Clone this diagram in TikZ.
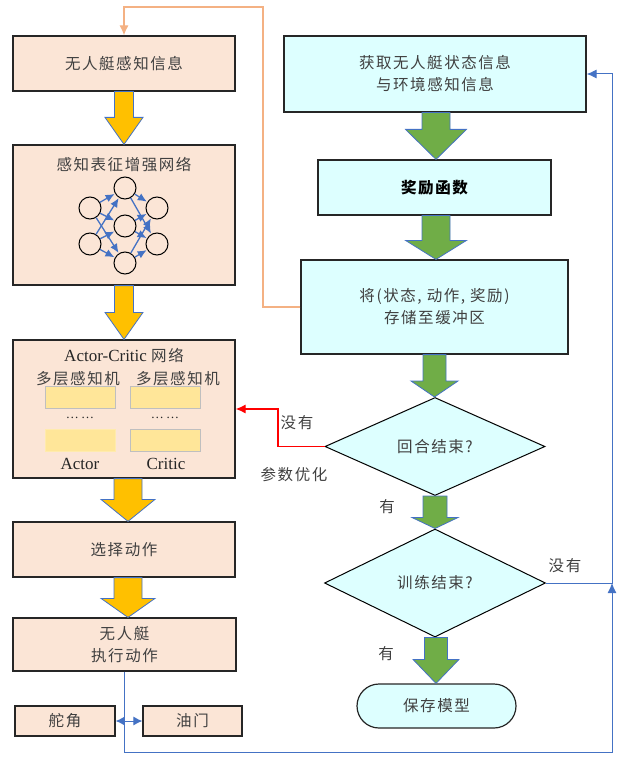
\documentclass[tikz,border=0pt]{standalone}
\usepackage{fontspec}
\setmainfont{Liberation Serif}
\newfontfamily\cjk[LetterSpace=10]{Noto Sans CJK SC}
\usetikzlibrary{shapes.geometric,arrows.meta,calc}
\definecolor{peach}{RGB}{251,229,214}
\definecolor{lcyan}{RGB}{221,255,255}
\definecolor{frame}{RGB}{38,38,38}
\definecolor{txt}{RGB}{64,64,64}
\definecolor{ayellow}{RGB}{255,192,0}
\definecolor{agreen}{RGB}{112,173,71}
\definecolor{aedge}{RGB}{68,114,196}
\definecolor{lblue}{RGB}{68,114,196}
\definecolor{lorange}{RGB}{244,177,131}
\definecolor{mlp}{RGB}{255,230,153}
\definecolor{mlpedge}{RGB}{191,191,191}
\newcommand\fatarrow[7]{% from, to, shaft half, head half, head length, fill, x offset
  \filldraw[fill=#6, draw=aedge, line width=0.8pt] let \p1=(#1.south), \p2=(#2.north) in
  (\x1+#7-#3,\y1) -- (\x1+#7-#3,\y2+#5) -- (\x1+#7-#4,\y2+#5) -- (\x1+#7,\y2)
  -- (\x1+#7+#4,\y2+#5) -- (\x1+#7+#3,\y2+#5) -- (\x1+#7+#3,\y1) -- cycle;}
\begin{document}
\begin{tikzpicture}[x=1pt,y=-1pt,
  cn/.style={font=\cjk\fontsize{15.5}{22}\selectfont, text=txt},
  lbox/.style={draw=frame, line width=1.2pt, fill=peach, cn, align=center, inner sep=0pt},
  rbox/.style={draw=frame, line width=1.2pt, fill=lcyan, cn, align=center, inner sep=0pt},
  dia/.style={diamond, draw=black, line width=1pt, fill=lcyan, cn, inner sep=0pt, aspect=2.2},
  lbl/.style={cn},
  neuron/.style={circle, draw=black, line width=1pt, minimum size=22pt, inner sep=0pt},
  nnarrow/.style={draw=lblue, line width=1.3pt, -{Latex[length=9pt,width=8pt]}, shorten >=0.5pt},
  mlpbox/.style={draw=mlpedge, line width=1pt, fill=mlp, minimum width=70pt, minimum height=22pt, inner sep=0pt},
  lat/.style={font=\fontsize{17}{20}\selectfont, text=black!85},
  bluel/.style={draw=lblue, line width=1pt},
  tipa/.style={-{Latex[length=10pt,width=9pt]}},
]
\useasboundingbox (0,0) rectangle (625,759);

% ---- coordinates for connector bends
\coordinate (oc) at (263,7);
\coordinate (rc) at (278,409);
\coordinate (bc) at (612,752);
\coordinate (jc) at (612,583);

% ---- left column
\node[lbox, minimum width=222pt, minimum height=55pt] (B1) at (124,63.5) {无人艇感知信息};
\node[lbox, minimum width=222pt, minimum height=140pt] (B2) at (124,215) {};
\node[lbox, minimum width=222pt, minimum height=138pt] (B3) at (124,409) {};
\node[lbox, minimum width=222pt, minimum height=55pt] (B4) at (124,549.5) {选择动作};
\node[lbox, minimum width=223pt, minimum height=53pt] (B5) at (124.5,644.5) {无人艇\\执行动作};
\node[lbox, minimum width=100pt, minimum height=30pt] (S1) at (65,721) {舵角};
\node[lbox, minimum width=99pt, minimum height=30pt] (S2) at (192.5,721) {油门};

% ---- right column
\node[rbox, minimum width=302pt, minimum height=76pt] (R1) at (435,74) {获取无人艇状态信息\\与环境感知信息};
\node[rbox, minimum width=233pt, minimum height=55pt, font=\cjk\bfseries\fontsize{15.5}{22}\selectfont, text=black] (R2) at (434.5,187.5) {奖励函数};
\node[rbox, minimum width=267pt, minimum height=94pt] (R3) at (434.5,307)
  {{\cjk 将}({\cjk 状态}, {\cjk 动作}, {\cjk 奖励})\\存储至缓冲区};
\node[dia, minimum width=220pt, minimum height=98pt] (D1) at (435,446.5) {回合结束?};
\node[dia, minimum width=221pt, minimum height=108pt] (D2) at (435,583) {训练结束?};
\node[rbox, rounded corners=22pt, minimum width=159pt, minimum height=44pt, line width=1.2pt] (T) at (436.5,706) {保存模型};

% ---- fat arrows
\fatarrow{B1}{B2}{9.5pt}{19pt}{27pt}{ayellow}{0pt}
\fatarrow{B2}{B3}{9.5pt}{19pt}{27pt}{ayellow}{0pt}
\fatarrow{B3}{B4}{14pt}{27pt}{22pt}{ayellow}{4pt}
\fatarrow{B4}{B5}{14pt}{27pt}{19pt}{ayellow}{4pt}
\fatarrow{R1}{R2}{14pt}{30.5pt}{30pt}{agreen}{1pt}
\fatarrow{R2}{R3}{14pt}{30.5pt}{19pt}{agreen}{1.5pt}
\fatarrow{R3}{D1}{11.5pt}{23.5pt}{16pt}{agreen}{0pt}
\fatarrow{D1}{D2}{12pt}{23pt}{11pt}{agreen}{0pt}
\fatarrow{D2}{T}{11.5pt}{23pt}{24pt}{agreen}{1pt}

% ---- perception network inside B2
\node[lbl] (B2t) at (124,165) {感知表征增强网络};
\node[neuron] (n11) at (90,208) {};
\node[neuron] (n12) at (90,244) {};
\node[neuron] (n21) at (125,188) {};
\node[neuron] (n22) at (125,226) {};
\node[neuron] (n23) at (125,263) {};
\node[neuron] (n31) at (157,208) {};
\node[neuron] (n32) at (157,244) {};
\foreach \a in {n11,n12}{\foreach \b in {n21,n22,n23}{\draw[nnarrow] (\a) -- (\b);}}
\foreach \a in {n21,n22,n23}{\foreach \b in {n31,n32}{\draw[nnarrow] (\a) -- (\b);}}

% ---- Actor-Critic inside B3
\node[lat] (B3t) at (124,355) {Actor-Critic {\cjk\fontsize{15.5}{22}\selectfont\color{txt}网络}};
\node[lbl] (m1) at (78,379) {多层感知机};
\node[lbl] (m2) at (178,379) {多层感知机};
\node[mlpbox] (a1) at (80,397) {};
\node[mlpbox] (c1) at (165,397) {};
\node[lat, font=\fontsize{13}{15}\selectfont] (d1) at (80,418) {\dots\,\dots};
\node[lat, font=\fontsize{13}{15}\selectfont] (d2) at (165,418) {\dots\,\dots};
\node[mlpbox, draw=mlp!80!white] (a2) at (80,440) {};
\node[mlpbox] (c2) at (165,440) {};
\node[lat] (al) at (80,464) {Actor};
\node[lat] (cl) at (166,464) {Critic};

% ---- connectors
\draw[draw=lorange, line width=1.2pt, tipa] (R3.west) -| (oc) -| (B1.north);
\draw[draw=red, line width=1.2pt, tipa] (D1.west) -| (rc) -- (B3.east);
\draw[bluel, tipa] (B5.south) |- (bc) -- (jc);
\draw[bluel, tipa] (D2.east) -- (jc) |- (R1.east);
\draw[bluel, {Latex[length=9pt,width=9pt]}-{Latex[length=9pt,width=9pt]}] (S1.east) -- (S2.west);

% ---- labels
\node[lbl] (l1) at (297,423) {没有};
\node[lbl] (l2) at (294,475) {参数优化};
\node[lbl] (l3) at (387,507) {有};
\node[lbl] (l4) at (565,566) {没有};
\node[lbl] (l5) at (386,654) {有};
\end{tikzpicture}
\end{document}
